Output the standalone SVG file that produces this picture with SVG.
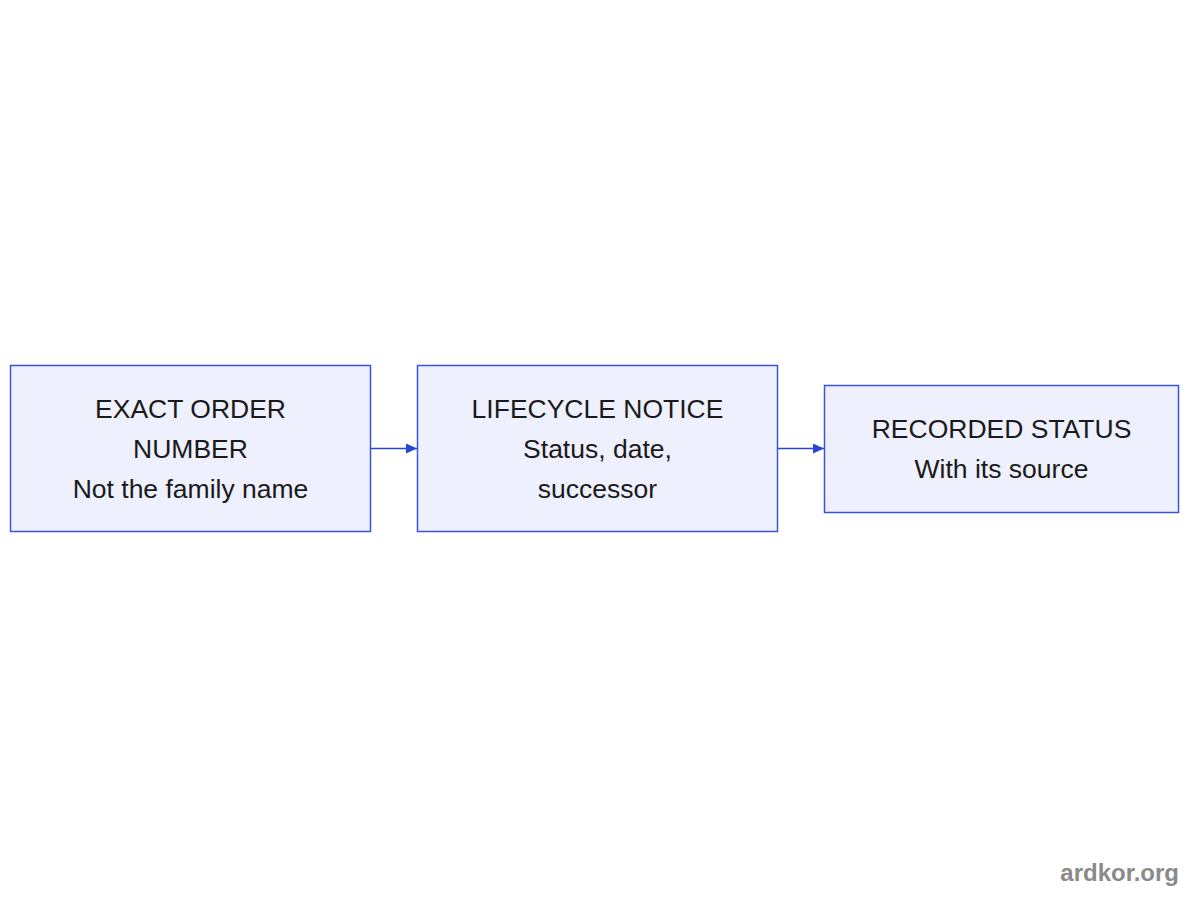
<svg xmlns="http://www.w3.org/2000/svg" width="1200" height="900" viewBox="0 0 1200 900">
<style>
.box{fill:#eef0fd;stroke:#3a56d8;stroke-width:1.5}
.t{font-family:"Liberation Sans",Arial,sans-serif;font-size:26.5px;fill:#1a1a1a;text-anchor:middle}
.edge{stroke:#2546d6;stroke-width:1.5;fill:none}
.wm{font-family:"Liberation Sans",Arial,sans-serif;font-size:24px;font-weight:bold;fill:#8a8a8a;text-anchor:end}
</style>
<defs>
<marker id="arr" viewBox="0 0 11 10" refX="11" refY="5" markerWidth="11" markerHeight="10" markerUnits="userSpaceOnUse" orient="auto">
<path d="M0,0 L11,5 L0,10 z" fill="#2546d6"/>
</marker>
</defs>
<rect width="1200" height="900" fill="#ffffff"/>
<g id="connectors">
<path class="edge" d="M370,448.5 L417,448.5" marker-end="url(#arr)"/>
<path class="edge" d="M777,448.5 L824,448.5" marker-end="url(#arr)"/>
</g>
<g id="node1">
<rect class="box" x="10.5" y="365.5" width="360" height="166"/>
<text class="t" x="190.5" y="418">EXACT ORDER</text>
<text class="t" x="190.5" y="458">NUMBER</text>
<text class="t" x="190.5" y="498">Not the family name</text>
</g>
<g id="node2">
<rect class="box" x="417.5" y="365.5" width="360" height="166"/>
<text class="t" x="597.5" y="418">LIFECYCLE NOTICE</text>
<text class="t" x="597.5" y="458">Status, date,</text>
<text class="t" x="597.5" y="498">successor</text>
</g>
<g id="node3">
<rect class="box" x="824.5" y="385.5" width="354" height="127"/>
<text class="t" x="1001.5" y="438">RECORDED STATUS</text>
<text class="t" x="1001.5" y="478">With its source</text>
</g>
<text class="wm" x="1179" y="881">ardkor.org</text>
</svg>
